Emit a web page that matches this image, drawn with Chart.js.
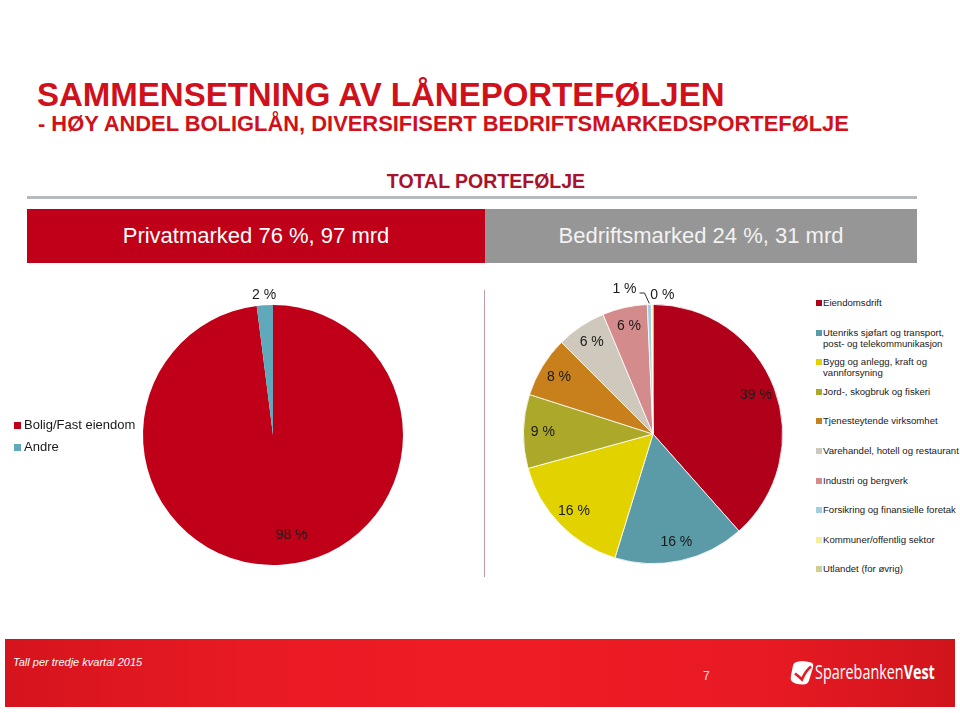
<!DOCTYPE html>
<html>
<head>
<meta charset="utf-8">
<script src="https://cdn.jsdelivr.net/npm/chart.js@4"></script>
<style>
  body { margin:0; width:960px; height:713px; background:#fff; position:relative; overflow:hidden;
         font-family:"Liberation Sans", Arial, sans-serif; }
  .abs { position:absolute; line-height:1; }
  #title { left:37px; top:78px; font-size:33px; font-weight:bold; color:#d0101a; white-space:nowrap; }
  #subtitle { left:38px; top:113px; font-size:21.9px; font-weight:bold; color:#d0101a; white-space:nowrap; }
  #total { left:0; width:972px; top:172px; text-align:center; font-size:19.5px; font-weight:bold; color:#a8122a; }
  #rule { left:27px; top:196px; width:890px; height:3px; background:#b5babd; }
  .bar { top:209px; height:54px; line-height:54px; text-align:center; font-size:22px; }
  #priv { left:27px; width:458px; background:#c00018; color:#fff; }
  #bed { left:485px; width:432px; background:#969696; color:#f2f2f2; }
  #sep { left:484px; top:290px; width:1px; height:287px; background:#c99aa5; }
  .lg { position:absolute; color:#1a1a1a; white-space:nowrap; }
  .lg i { position:absolute; display:block; }
  #leg1 { left:14px; top:417px; font-size:13px; }
  #leg1 .it { position:relative; height:22px; padding-left:10px; line-height:16px; }
  #leg1 i { left:0; top:5px; width:7px; height:7px; }
  #leg2 { left:816px; top:297px; font-size:9.6px; }
  #leg2 .it { position:relative; height:29.6px; padding-left:7px; line-height:11px; }
  #leg2 i { left:0; top:3px; width:6px; height:6px; }
  #foot { left:5px; top:639px; width:950px; height:68px;
          background:linear-gradient(90deg,#d5141d 0%,#e81a23 25%,#ee1c25 50%,#e81a23 80%,#d0141c 100%); }
  #footnote { left:13px; top:657px; font-size:11px; font-style:italic; color:#fff; }
  #page { left:703px; top:670px; font-size:12px; color:#fbe3e3; }
  #logo { left:790px; top:659px; color:#fff; white-space:nowrap; }
  #logo svg { position:absolute; left:0; top:0; }
  #logoText { position:absolute; left:25px; top:3px; font-family:"Open Sans", sans-serif; font-size:20px;
              transform-origin:0 0; }
  #logoText span.b { font-weight:bold; }
</style>
</head>
<body>
<div class="abs" id="title">SAMMENSETNING AV LÅNEPORTEFØLJEN</div>
<div class="abs" id="subtitle">- HØY ANDEL BOLIGLÅN, DIVERSIFISERT BEDRIFTSMARKEDSPORTEFØLJE</div>
<div class="abs" id="total">TOTAL PORTEFØLJE</div>
<div class="abs" id="rule"></div>
<div class="abs bar" id="priv">Privatmarked 76 %, 97 mrd</div>
<div class="abs bar" id="bed">Bedriftsmarked 24 %, 31 mrd</div>
<div class="abs" id="sep"></div>

<canvas id="pie1" class="abs" width="320" height="320" style="left:113px;top:275px"></canvas>
<canvas id="pie2" class="abs" width="320" height="320" style="left:493px;top:274px"></canvas>
<div class="lg" id="leg1"></div>
<div class="lg" id="leg2"></div>

<div class="abs" id="foot"></div>
<div class="abs" id="footnote">Tall per tredje kvartal 2015</div>
<div class="abs" id="page">7</div>
<div class="abs" id="logo">
  <svg width="24" height="27" viewBox="0 0 24 26">
    <path d="M5 3 Q12 0 21 3 Q24 4 23 8 L19 21 Q18 25 13 25 Q5 25 2 22 Q0 20 1 16 L3 6 Q3.5 3.8 5 3 Z" fill="#fff"/>
    <path d="M5 14 Q9 17 12 20 Q15 12 21 7" stroke="#e41b23" stroke-width="2.6" fill="none"/>
  </svg>
  <div id="logoText"><span>Sparebanken</span><span class="b">Vest</span></div>
</div>

<script>
// total portfolio: private market
const privLabels = ['Bolig/Fast eiendom', 'Andre'];
const privValues = [98, 2];
const privColors = ['#c00018', '#5fa9bb'];

// business market by sector
const bedLabels = [
  'Eiendomsdrift',
  'Utenriks sjøfart og transport,\npost- og telekommunikasjon',
  'Bygg og anlegg, kraft og\nvannforsyning',
  'Jord-, skogbruk og fiskeri',
  'Tjenesteytende virksomhet',
  'Varehandel, hotell og restaurant',
  'Industri og bergverk',
  'Forsikring og finansielle foretak',
  'Kommuner/offentlig sektor',
  'Utlandet (for øvrig)'
];
const bedValues = [38.5, 16.3, 16.0, 9.2, 7.6, 6.2, 5.6, 0.5, 0.2, 0];
const bedColors = ['#b0001a', '#5b9ba8', '#e2d300', '#aba82a', '#c7801c', '#cfc8bd', '#d48b8b', '#a3cedd', '#f3ef9c', '#cfd08f'];

// label placement: fraction of radius, angle shift in degrees
function labelSpot(i, opts) {
  const o = (opts.special && opts.special[i]) || {};
  return { r: o.r || opts.r, shift: o.shift || 0, leader: o.leader };
}

const pieLabels = {
  id: 'pieLabels',
  afterDatasetsDraw(chart, args, opts) {
    const ctx = chart.ctx;
    const meta = chart.getDatasetMeta(0);
    const vals = chart.data.datasets[0].data;
    ctx.save();
    ctx.font = '14px "Liberation Sans", Arial';
    ctx.fillStyle = '#1a1a1a';
    ctx.textAlign = 'center';
    ctx.textBaseline = 'middle';
    meta.data.forEach(function(arc, i) {
      if (vals[i] === 0) return;
      const p = labelSpot(i, opts);
      const a = (arc.startAngle + arc.endAngle) / 2 + p.shift * Math.PI / 180;
      const x = arc.x + Math.cos(a) * arc.outerRadius * p.r;
      const y = arc.y + Math.sin(a) * arc.outerRadius * p.r;
      const txt = Math.round(vals[i]) + ' %';
      ctx.fillText(txt, x, y);
      if (p.leader) {
        const m = (arc.startAngle + arc.endAngle) / 2;
        const w = ctx.measureText(txt).width;
        ctx.strokeStyle = '#333';
        ctx.lineWidth = 1;
        ctx.beginPath();
        ctx.moveTo(x + w / 2 + 3, y + 4);
        ctx.lineTo(x + w / 2 + 8, y + 4);
        ctx.lineTo(arc.x + Math.cos(m) * (arc.outerRadius + 1), arc.y + Math.sin(m) * (arc.outerRadius + 1));
        ctx.stroke();
      }
    });
    ctx.restore();
  }
};

function makePie(id, labels, values, colors, border, labelOpts) {
  return new Chart(document.getElementById(id), {
    type: 'pie',
    data: {
      labels: labels,
      datasets: [{ data: values, backgroundColor: colors, borderColor: '#fff', borderWidth: border }]
    },
    options: {
      responsive: false,
      animation: false,
      layout: { padding: 30 },
      plugins: { legend: { display: false }, tooltip: { enabled: false }, pieLabels: labelOpts }
    },
    plugins: [pieLabels]
  });
}

makePie('pie1', privLabels, privValues, privColors, 0, {
  r: 0.78, special: { 0: { r: 0.78, shift: -7 }, 1: { r: 1.08 } }
});
makePie('pie2', bedLabels, bedValues, bedColors, 0.8, {
  r: 0.85, special: { 7: { r: 1.14, shift: -9.5, leader: true }, 8: { r: 1.07, shift: 4.2 } }
});

// html legends
function buildLegend(elId, labels, colors) {
  const el = document.getElementById(elId);
  labels.forEach(function(l, i) {
    const d = document.createElement('div');
    d.className = 'it';
    d.innerHTML = '<i style="background:' + colors[i] + '"></i>' + l.replace('\n', '<br>');
    el.appendChild(d);
  });
}
buildLegend('leg1', privLabels, privColors);
buildLegend('leg2', bedLabels, bedColors);

// squeeze logo text to its width in the slide
const lt = document.getElementById('logoText');
lt.style.transform = 'scaleX(' + (120 / lt.offsetWidth) + ')';
</script>
</body>
</html>
